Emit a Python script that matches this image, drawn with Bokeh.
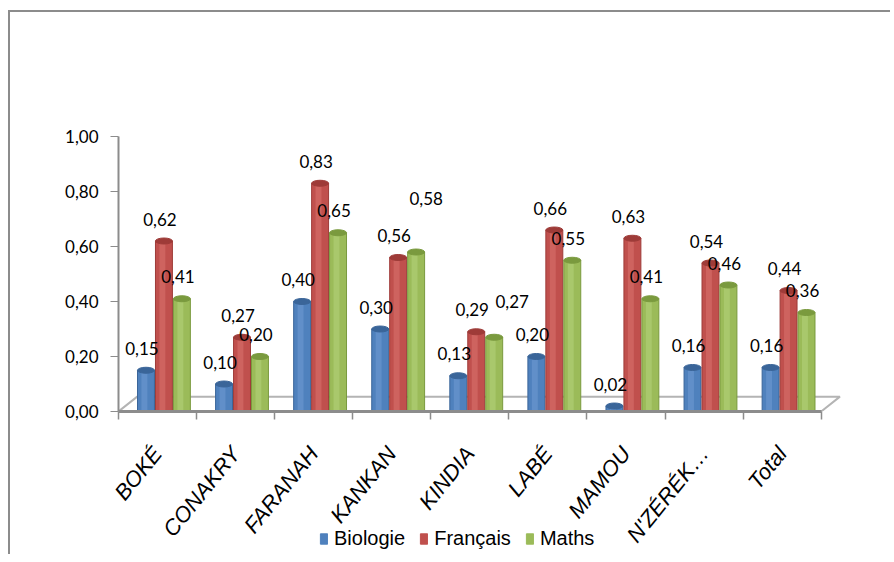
from bokeh.plotting import figure
from bokeh.layouts import column
from bokeh.models import (ColumnDataSource, FixedTicker, CustomJSTickFormatter, Legend,
                          LegendItem, Range1d)
from bokeh.transform import dodge
from bokeh.core.properties import value
from bokeh.embed import file_html
from bokeh.resources import INLINE

# ---- data ----
categories = ["BOKÉ", "CONAKRY", "FARANAH", "KANKAN", "KINDIA", "LABÉ", "MAMOU", "N'ZÉRÉK…", "Total"]
series = ["Biologie", "Français", "Maths"]
biologie = [0.15, 0.10, 0.40, 0.30, 0.13, 0.20, 0.02, 0.16, 0.16]
francais = [0.62, 0.27, 0.83, 0.56, 0.29, 0.66, 0.63, 0.54, 0.44]
maths = [0.41, 0.20, 0.65, 0.58, 0.27, 0.55, 0.41, 0.46, 0.36]
y_ticks = [0.0, 0.2, 0.4, 0.6, 0.8, 1.0]

# ---- style ----
colors = ["#4F81BD", "#C0504D", "#9BBB59"]
edge_colors = ["#3A6599", "#9E3B38", "#7A9A3E"]
light_colors = ["#6E9AD0", "#D7706D", "#B3D07A"]
offsets = [-0.148, 0.082, 0.312]
bar_w = 0.217
# pixel nudges of a few data labels that sit apart in the reference
label_nudge = {(3, 2): (14, -32), (4, 2): (22, -14)}

xc = [i + 0.5 for i in range(len(categories))]
source = ColumnDataSource(dict(xc=xc, Biologie=biologie, Français=francais, Maths=maths))

p = figure(width=880, height=545, output_backend="svg", toolbar_location=None,
           x_range=Range1d(0, 9.26), y_range=Range1d(0, 1.0),
           min_border_left=108, min_border_right=49, min_border_top=124, min_border_bottom=146,
           background_fill_color="white", border_fill_color="white")
p.outline_line_color = None
p.grid.visible = False

# 3D-like floor
n = len(categories)
dxf, dyf = 0.24, 0.054
p.patch([0, n, n + dxf, dxf], [0, 0, dyf, dyf], fill_color="white",
        line_color="#b4b4b4", line_width=2)

for k, s in enumerate(series):
    p.vbar(x=dodge("xc", offsets[k]), top=s, width=bar_w, bottom=0, source=source,
           fill_color=colors[k], line_color=edge_colors[k], line_width=1)
    p.vbar(x=dodge("xc", offsets[k] - 0.02), top=s, width=bar_w * 0.35, bottom=0, source=source,
           fill_color=light_colors[k], line_color=None, fill_alpha=0.6)
    p.ellipse(x=dodge("xc", offsets[k]), y=s, width=bar_w, height=6, height_units="screen",
              source=source, fill_color=edge_colors[k], line_color=edge_colors[k])

# data labels
vals = [biologie, francais, maths]
for k in range(3):
    for i in range(n):
        dx, dy = label_nudge.get((i, k), (0, 0))
        p.text(x=[xc[i] + offsets[k]], y=[vals[k][i]],
               text=[f"{vals[k][i]:.2f}".replace(".", ",")],
               x_offset=-4 + dx, y_offset=-22 + dy,
               text_align="center", text_baseline="middle",
               text_font=value("Lato"), text_font_size="17px", text_color="black")

# y axis
ya = p.yaxis[0]
ya.ticker = FixedTicker(ticks=y_ticks, minor_ticks=[])
ya.formatter = CustomJSTickFormatter(code="return tick.toFixed(2).replace('.', ',');")
ya.axis_line_color = "#8c8c8c"
ya.axis_line_width = 2
ya.major_tick_line_color = "#8c8c8c"
ya.major_tick_out = 8
ya.major_tick_in = 0
ya.major_label_text_font = "Lato"
ya.major_label_text_font_size = "17px"
ya.major_label_text_color = "black"
ya.major_label_standoff = 12
ya.bounds = (0, 1)

# x axis
xa = p.xaxis[0]
xa.ticker = FixedTicker(ticks=xc, minor_ticks=list(range(n + 1)))
xa.major_label_overrides = {t: c for t, c in zip(xc, categories)}
xa.major_label_orientation = 0.89
xa.axis_line_color = "#8c8c8c"
xa.axis_line_width = 3
xa.bounds = (0, n)
xa.major_tick_line_color = None
xa.major_tick_out = 8
xa.major_tick_in = 0
xa.minor_tick_line_color = "#8c8c8c"
xa.minor_tick_line_width = 1.5
xa.minor_tick_out = 8
xa.minor_tick_in = 0
xa.major_label_text_font = "Liberation Sans"
xa.major_label_text_font_style = "italic"
xa.major_label_text_font_size = "22px"
xa.major_label_text_color = "black"
xa.major_label_standoff = 30

# legend strip (separate small, transparent figure just under the axis labels)
lg = figure(width=880, height=26, output_backend="svg", toolbar_location=None,
            x_range=Range1d(0, 1), y_range=Range1d(0, 1),
            x_axis_location=None, y_axis_location=None,
            min_border=0, background_fill_alpha=0, border_fill_alpha=0)
lg.grid.visible = False
lg.outline_line_color = None
lg.styles = {"margin-top": "-29px", "background": "transparent"}
# proxy renderers for the legend keys (kept outside the visible range)
proxy = ColumnDataSource(dict(x=[-1.0], y=[-1.0]))
items = []
for k, s in enumerate(series):
    r = lg.vbar(x="x", top="y", width=0.1, source=proxy, fill_color=colors[k],
                line_color=colors[k])
    items.append(LegendItem(label=s, renderers=[r]))
legend = Legend(items=items, orientation="horizontal", location=(201, 4),
                glyph_width=9, glyph_height=13, label_standoff=6, spacing=14,
                padding=0, margin=0, border_line_color=None, background_fill_alpha=0,
                label_text_font="Liberation Sans", label_text_font_size="20px",
                label_text_color="black")
lg.add_layout(legend, "center")

page = column(p, lg, spacing=0,
              styles={"margin-left": "8px", "margin-top": "10px",
                      "border-left": "2px solid #8c8c8c", "border-top": "2px solid #8c8c8c"})

open("out.html", "w").write(file_html(page, INLINE))
